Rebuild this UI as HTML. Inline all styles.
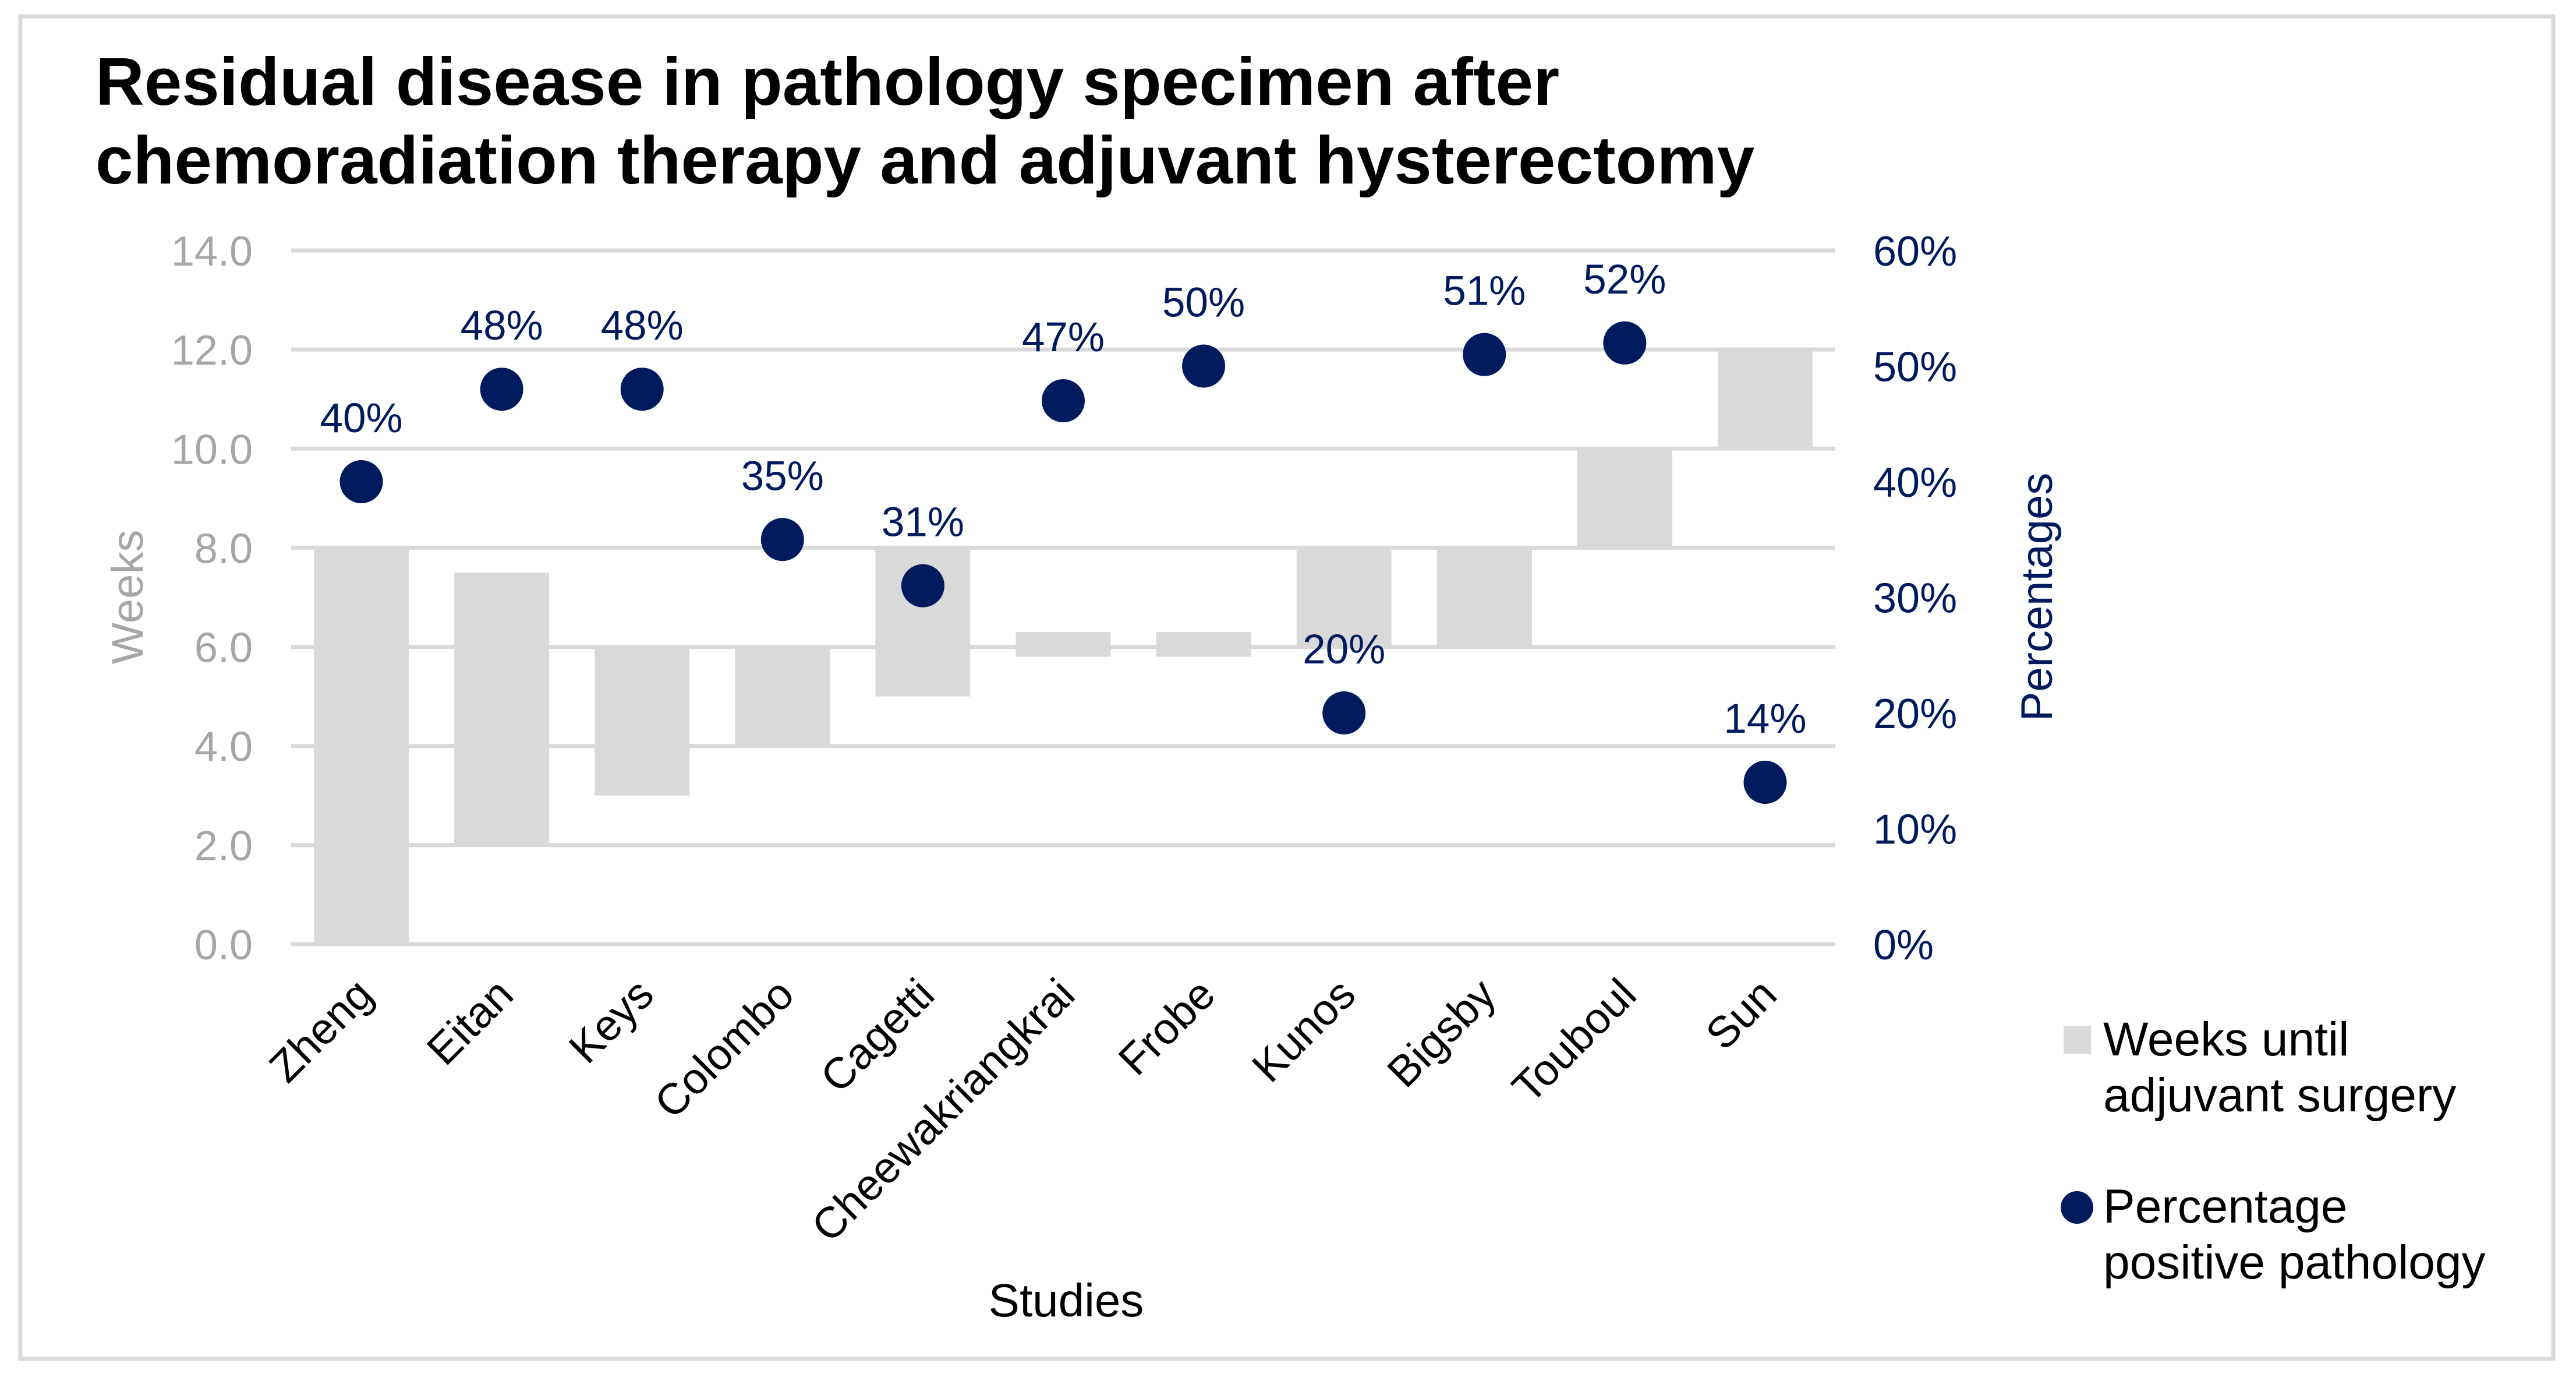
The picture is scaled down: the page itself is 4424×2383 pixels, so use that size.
<!DOCTYPE html>
<html><head><meta charset="utf-8"><style>html,body{margin:0;padding:0;background:#fff}svg{display:block}text{font-family:"Liberation Sans",Arial,sans-serif}</style></head>
<body>
<svg id="chart" width="4424" height="2383" viewBox="0 0 4424 2383" xmlns="http://www.w3.org/2000/svg">
<rect x="35" y="28" width="4350" height="2305" fill="#fff" stroke="#d9d9d9" stroke-width="7"/>
<text x="164" y="180" font-size="116" font-weight="bold" fill="#000">Residual disease in pathology specimen after</text>
<text x="164" y="315" font-size="116" font-weight="bold" fill="#000">chemoradiation therapy and adjuvant hysterectomy</text>
<g id="grid"></g><g id="bars"></g><g id="dots"></g><g id="axes"></g>
<text transform="translate(245,1025) rotate(-90)" text-anchor="middle" font-size="76" fill="#a6a6a6">Weeks</text>
<text transform="translate(3524,1025) rotate(-90)" text-anchor="middle" font-size="76" fill="#001a5e">Percentages</text>
<text x="1831" y="2260" text-anchor="middle" font-size="80" fill="#000">Studies</text>
<rect x="3544" y="1761" width="47" height="48" fill="#d9d9d9"/>
<text x="3614" font-size="82" fill="#000"><tspan x="3612" y="1812">Weeks until</tspan><tspan x="3612" y="1908">adjuvant surgery</tspan></text>
<circle cx="3567" cy="2073" r="28" fill="#001a5e"/>
<text x="3614" font-size="82" fill="#000"><tspan x="3612" y="2099">Percentage</tspan><tspan x="3612" y="2195">positive pathology</tspan></text>
</svg>
<script>
const categories=["Zheng","Eitan","Keys","Colombo","Cagetti","Cheewakriangkrai","Frobe","Kunos","Bigsby","Touboul","Sun"];
const barStart=[0,2,3,4,5,5.8,5.8,6,6,8,10];
const barEnd=[8,7.5,6,6,8,6.3,6.3,8,8,10,12];
const percents=[40,48,48,35,31,47,50,20,51,52,14];
const leftTicks=["0.0","2.0","4.0","6.0","8.0","10.0","12.0","14.0"];
const rightTicks=["0%","10%","20%","30%","40%","50%","60%"];
const NS="http://www.w3.org/2000/svg";
const X0=500,X1=3152,Y0=1621,Y1=430;
const band=(X1-X0)/categories.length;
function xC(i){return X0+band*(i+0.5);}
function yW(v){return Y0-(v/14)*(Y0-Y1);}
function yP(v){return Y0-(v/60)*(Y0-Y1);}
function mk(t,a,p){const e=document.createElementNS(NS,t);for(const k in a)e.setAttribute(k,a[k]);p.appendChild(e);return e;}
const grid=document.getElementById('grid'),bars=document.getElementById('bars'),dots=document.getElementById('dots'),axes=document.getElementById('axes');
leftTicks.forEach((t,i)=>{const v=i*2;
 const l=mk('line',{x1:X0,x2:X1,y1:yW(v),y2:yW(v),stroke:'#d9d9d9','stroke-width':7},grid);
 
 
 const tx=mk('text',{x:434,y:yW(v)+26,'text-anchor':'end','font-size':72,fill:'#a6a6a6'},axes);tx.textContent=t;
 
 
});
rightTicks.forEach((t,i)=>{const tx=mk('text',{x:3217,y:yP(i*10)+26,'font-size':72,fill:'#001a5e'},axes);tx.textContent=t;
 
 
});
const bw=band*0.676;
categories.forEach((c,i)=>{
 const r=mk('rect',{x:xC(i)-bw/2,y:yW(barEnd[i]),width:bw,height:yW(barStart[i])-yW(barEnd[i]),fill:'#d9d9d9'},bars);
 
 
 const d=mk('circle',{cx:xC(i),cy:yP(percents[i]),r:37,fill:'#001a5e'},dots);
 
 
 const lb=mk('text',{x:xC(i),y:yP(percents[i])-85,'text-anchor':'middle','font-size':71,fill:'#001a5e'},dots);lb.textContent=percents[i]+'%';
 
 
 const ax=xC(i)+24,ay=1712;
 const ct=mk('text',{x:ax,y:ay,'text-anchor':'end','font-size':75,fill:'#000',transform:`rotate(-45 ${ax} ${ay})`},axes);ct.textContent=c;
 
 
});
</script>
</body></html>
